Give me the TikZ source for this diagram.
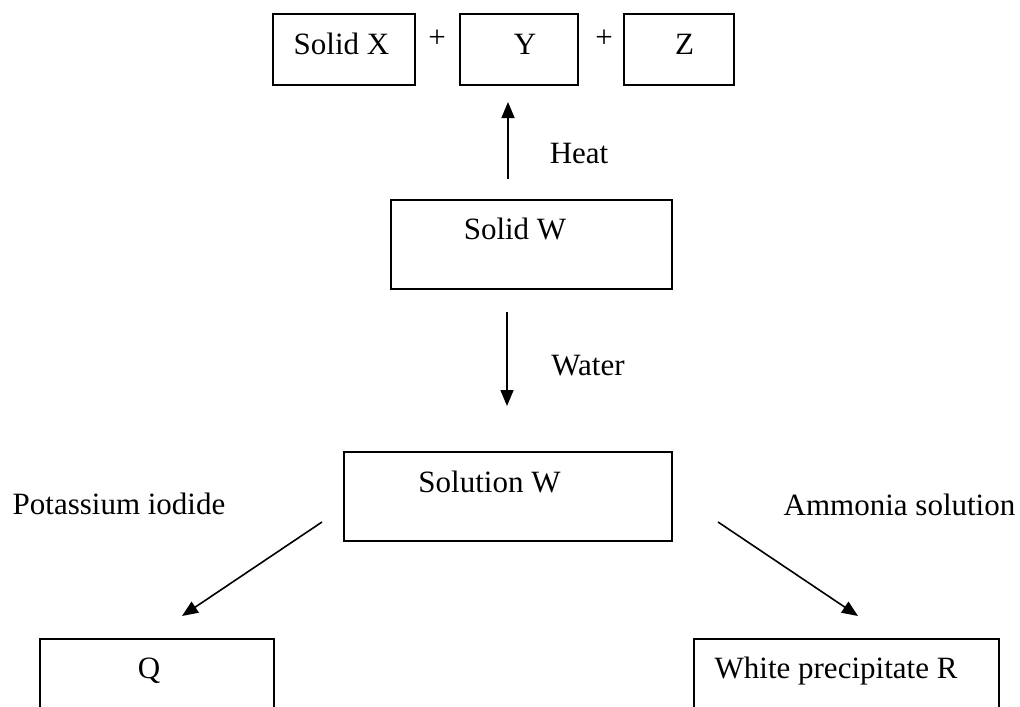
\documentclass[tikz,border=0pt]{standalone}
\usepackage{fontspec}
\setmainfont{Liberation Serif}
\usetikzlibrary{arrows.meta}

\begin{document}
\begin{tikzpicture}[x=0.5pt,y=-0.5pt,
	every node/.style={font=\fontsize{15.5}{18}\selectfont},
	box/.style={draw=black,line width=1pt,inner sep=0pt},
	txt/.style={inner sep=0pt,text height=10.2pt,text depth=0pt},
	flow/.style={draw=black,line width=0.8pt,-{Triangle[length=8pt,width=6.5pt]}}]
	\useasboundingbox (0,0) rectangle (1020,706);
	\node [box,minimum width=71pt,minimum height=35.5pt] (solidx) at (344,49.5) {};
	\node [txt] (solidxtext) at (341.5,44) {Solid X};
	\node [txt] (plusa) at (437,37) {+};
	\node [box,minimum width=59pt,minimum height=35.5pt] (y) at (519,49.5) {};
	\node [txt] (ytext) at (525,44) {Y};
	\node [txt] (plusb) at (604,37) {+};
	\node [box,minimum width=55pt,minimum height=35.5pt] (z) at (679,49.5) {};
	\node [txt] (ztext) at (684.5,44) {Z};
	\node [box,minimum width=140.5pt,minimum height=44.5pt] (solidw) at (531.5,244.5) {};
	\node [txt] (solidwtext) at (515,229.5) {Solid W};
	\node [box,minimum width=164pt,minimum height=44.5pt] (solutionw) at (508,496.5) {};
	\node [txt] (solutionwtext) at (489.5,482.5) {Solution W};
	\node [box,minimum width=117pt,minimum height=44.5pt] (q) at (157,683.5) {};
	\node [txt] (qtext) at (149,668) {Q};
	\node [box,minimum width=152.5pt,minimum height=44.5pt] (r) at (846.5,683.5) {};
	\node [txt] (rtext) at (836,668) {White precipitate R};
	\node [txt] (heat) at (579,153) {Heat};
	\node [txt] (water) at (588,365) {Water};
	\node [txt] (ki) at (119,504) {Potassium iodide};
	\node [txt] (ammonia) at (899.5,505) {Ammonia solution};
	\coordinate (heatfoot) at (508,179);
	\coordinate (heattip) at (508,102);
	\coordinate (waterfoot) at (507,312);
	\coordinate (watertip) at (507,406);
	\coordinate (kifoot) at (322,522);
	\coordinate (kitip) at (182,616);
	\coordinate (ammoniafoot) at (718,522);
	\coordinate (ammoniatip) at (858,616);
	\draw [flow] (heatfoot) -- (heattip);
	\draw [flow] (waterfoot) -- (watertip);
	\draw [flow] (kifoot) -- (kitip);
	\draw [flow] (ammoniafoot) -- (ammoniatip);
\end{tikzpicture}
\end{document}
